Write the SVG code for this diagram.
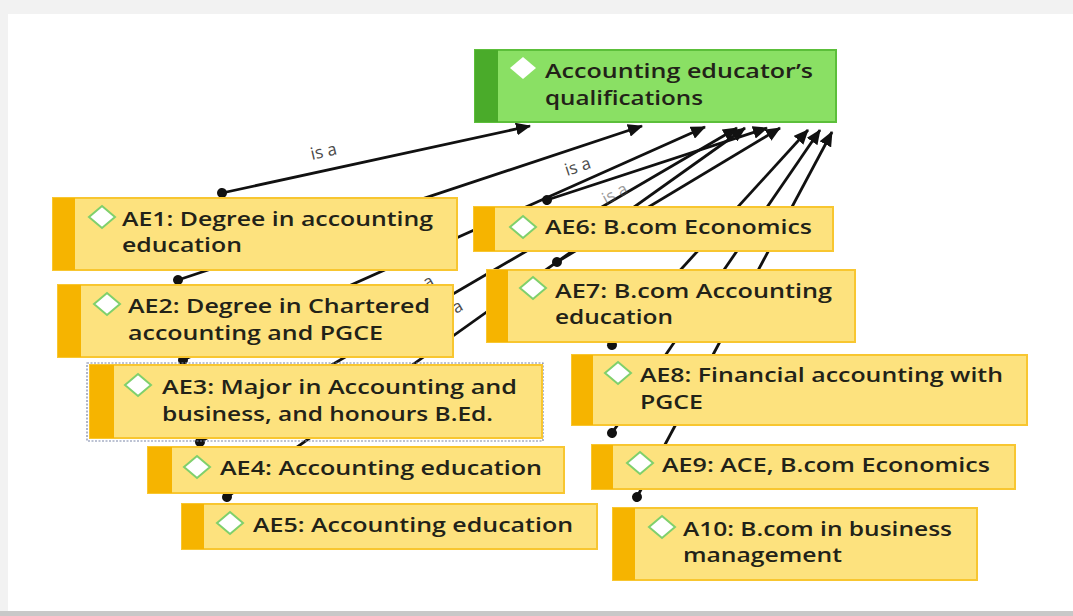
<svg xmlns="http://www.w3.org/2000/svg" width="1073" height="616" viewBox="0 0 1073 616">
<defs>
<style>
.yb{fill:#fde27e;stroke:#f8c630;stroke-width:2}
.ys{fill:#f6b400}
.t{font-family:"Open Sans","Liberation Sans",sans-serif;font-weight:600;font-size:20px;fill:#222218}
.dm{fill:#fff;stroke:#7fd06c;stroke-width:2}
.lb{font-family:"Open Sans","Liberation Sans",sans-serif;font-size:17px;fill:#4a4a4a}
.c{stroke:#111;stroke-width:2.8;fill:none;marker-start:url(#dot);marker-end:url(#arr)}
</style>
<marker id="arr" markerUnits="userSpaceOnUse" markerWidth="15" markerHeight="13" refX="14" refY="6.5" orient="auto"><path d="M0,0 L15,6.5 L0,13 z" fill="#111"/></marker>
<marker id="dot" markerUnits="userSpaceOnUse" markerWidth="12" markerHeight="12" refX="6" refY="6" orient="auto"><circle cx="6" cy="6" r="5" fill="#111"/></marker>
</defs>
<rect x="0" y="0" width="1073" height="616" fill="#f2f2f2"/>
<rect x="8" y="14" width="1065" height="597" fill="#ffffff"/>
<rect x="0" y="611" width="1073" height="5" fill="#c8c8c8"/>

<g id="connectors">
<line class="c" x1="222" y1="193" x2="530" y2="126"/>
<line class="c" x1="178" y1="280" x2="642" y2="126"/>
<line class="c" x1="183" y1="360" x2="705" y2="127"/>
<line class="c" x1="200" y1="442" x2="737" y2="128"/>
<line class="c" x1="227" y1="497" x2="745" y2="128"/>
<line class="c" x1="547" y1="200" x2="767" y2="128"/>
<line class="c" x1="557" y1="262" x2="780" y2="128"/>
<line class="c" x1="612" y1="345" x2="808" y2="130"/>
<line class="c" x1="612" y1="433" x2="820" y2="130"/>
<line class="c" x1="637" y1="497" x2="832" y2="132"/>
<text class="lb" transform="translate(312,160) rotate(-13)">is a</text>
<text class="lb" transform="translate(567,176) rotate(-18)">is a</text>
<text class="lb" opacity="0.55" transform="translate(606,205) rotate(-28)">is a</text>
<text class="lb" transform="translate(427,289) rotate(-30)">a</text>
<text class="lb" transform="translate(456,314) rotate(-30)">a</text>
</g>

<g id="main">
<rect x="475" y="50" width="361" height="72" fill="#8ae064" stroke="#5cbf3a" stroke-width="2"/>
<rect x="475" y="50" width="23" height="72" fill="#4aab2a"/>
<path d="M523,57 L536,68 L523,79 L510,68 z" fill="#fff"/>
<text class="t" x="545" y="78" textLength="268" lengthAdjust="spacingAndGlyphs">Accounting educator’s</text>
<text class="t" x="545" y="105" textLength="158" lengthAdjust="spacingAndGlyphs">qualifications</text>
</g>

<g id="ae1">
<rect class="yb" x="53" y="198" width="404" height="72"/>
<rect class="ys" x="53" y="198" width="22" height="72"/>
<path class="dm" d="M102,206 L115,217 L102,228 L89,217 z"/>
<text class="t" x="122" y="226" textLength="311" lengthAdjust="spacingAndGlyphs">AE1: Degree in accounting</text>
<text class="t" x="122" y="252" textLength="120" lengthAdjust="spacingAndGlyphs">education</text>
</g>

<g id="ae2">
<rect class="yb" x="58" y="285" width="395" height="72"/>
<rect class="ys" x="58" y="285" width="23" height="72"/>
<path class="dm" d="M107,293 L120,304 L107,315 L94,304 z"/>
<text class="t" x="128" y="313" textLength="302" lengthAdjust="spacingAndGlyphs">AE2: Degree in Chartered</text>
<text class="t" x="128" y="340" textLength="255" lengthAdjust="spacingAndGlyphs">accounting and PGCE</text>
</g>

<g id="ae3">
<rect x="87" y="363" width="456" height="78" fill="none" stroke="#7a86a8" stroke-width="1.2" stroke-dasharray="2,1.5"/>
<rect class="yb" x="90" y="365" width="452" height="73"/>
<rect class="ys" x="90" y="365" width="24" height="73"/>
<path class="dm" d="M138,374 L151,385 L138,396 L125,385 z"/>
<text class="t" x="162" y="394" textLength="355" lengthAdjust="spacingAndGlyphs">AE3: Major in Accounting and</text>
<text class="t" x="162" y="421" textLength="331" lengthAdjust="spacingAndGlyphs">business, and honours B.Ed.</text>
</g>

<g id="ae4">
<rect class="yb" x="148" y="447" width="416" height="46"/>
<rect class="ys" x="148" y="447" width="24" height="46"/>
<path class="dm" d="M197,456 L210,467 L197,478 L184,467 z"/>
<text class="t" x="220" y="475" textLength="322" lengthAdjust="spacingAndGlyphs">AE4: Accounting education</text>
</g>

<g id="ae5">
<rect class="yb" x="182" y="504" width="415" height="45"/>
<rect class="ys" x="182" y="504" width="22" height="45"/>
<path class="dm" d="M230,512 L243,523 L230,534 L217,523 z"/>
<text class="t" x="253" y="532" textLength="320" lengthAdjust="spacingAndGlyphs">AE5: Accounting education</text>
</g>

<g id="ae6">
<rect class="yb" x="474" y="207" width="359" height="44"/>
<rect class="ys" x="474" y="207" width="21" height="44"/>
<path class="dm" d="M523,216 L536,227 L523,238 L510,227 z"/>
<text class="t" x="545" y="234" textLength="267" lengthAdjust="spacingAndGlyphs">AE6: B.com Economics</text>
</g>

<g id="ae7">
<rect class="yb" x="487" y="270" width="368" height="72"/>
<rect class="ys" x="487" y="270" width="21" height="72"/>
<path class="dm" d="M533,277 L546,288 L533,299 L520,288 z"/>
<text class="t" x="555" y="298" textLength="277" lengthAdjust="spacingAndGlyphs">AE7: B.com Accounting</text>
<text class="t" x="555" y="324" textLength="118" lengthAdjust="spacingAndGlyphs">education</text>
</g>

<g id="ae8">
<rect class="yb" x="572" y="355" width="455" height="70"/>
<rect class="ys" x="572" y="355" width="21" height="70"/>
<path class="dm" d="M618,362 L631,373 L618,384 L605,373 z"/>
<text class="t" x="640" y="382" textLength="363" lengthAdjust="spacingAndGlyphs">AE8: Financial accounting with</text>
<text class="t" x="640" y="409" textLength="63" lengthAdjust="spacingAndGlyphs">PGCE</text>
</g>

<g id="ae9">
<rect class="yb" x="592" y="445" width="423" height="44"/>
<rect class="ys" x="592" y="445" width="21" height="44"/>
<path class="dm" d="M640,452 L653,463 L640,474 L627,463 z"/>
<text class="t" x="662" y="472" textLength="328" lengthAdjust="spacingAndGlyphs">AE9: ACE, B.com Economics</text>
</g>

<g id="a10">
<rect class="yb" x="613" y="508" width="364" height="72"/>
<rect class="ys" x="613" y="508" width="22" height="72"/>
<path class="dm" d="M662,516 L675,527 L662,538 L649,527 z"/>
<text class="t" x="683" y="536" textLength="269" lengthAdjust="spacingAndGlyphs">A10: B.com in business</text>
<text class="t" x="683" y="562" textLength="159" lengthAdjust="spacingAndGlyphs">management</text>
</g>
</svg>
